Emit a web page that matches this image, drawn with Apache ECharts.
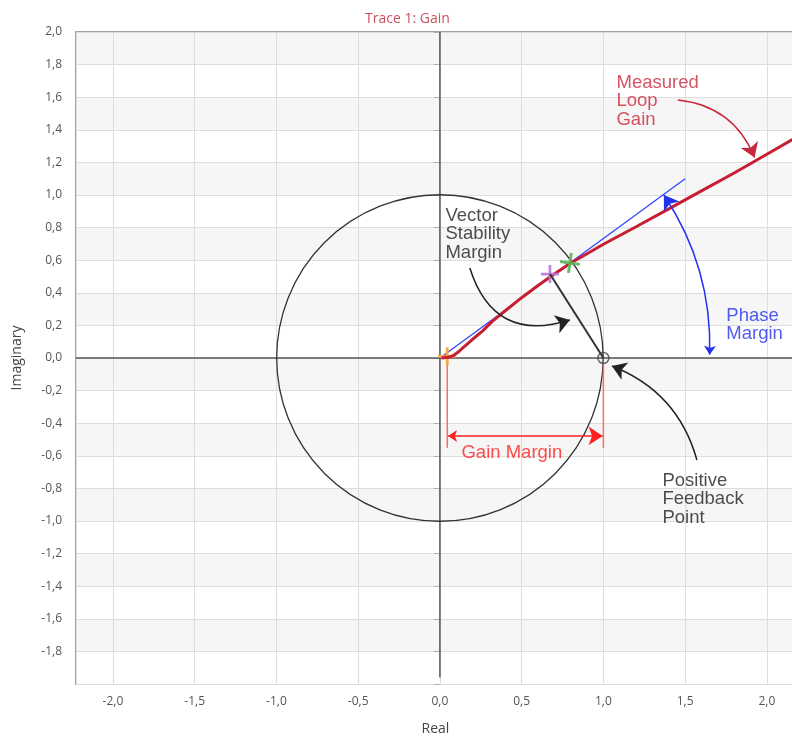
<!DOCTYPE html>
<html>
<head>
<meta charset="utf-8">
<title>Trace 1: Gain</title>
<script src="https://cdn.jsdelivr.net/npm/echarts@6/dist/echarts.min.js"></script>
<style>
    html, body { margin: 0; padding: 0; background: #fff; }
    #main { width: 792px; height: 740px; }
</style>
</head>
<body>
<div id="main"></div>
<script type="text/javascript">
    // axis ranges
    var realRange = [-2.226, 2.172];
    var imagRange = [-2.0, 2.0];

    // measured loop gain (real, imaginary)
    var loopGain = [
        [0.01, 0.0], [0.05, 0.004], [0.08, 0.014], [0.11, 0.035], [0.14, 0.062],
        [0.2, 0.115], [0.26, 0.165], [0.32, 0.225], [0.4, 0.29], [0.5, 0.37],
        [0.6, 0.445], [0.7, 0.515], [0.8, 0.583], [0.9, 0.64], [1.0, 0.698],
        [1.2, 0.805], [1.4, 0.915], [1.6, 1.025], [1.8, 1.135], [2.0, 1.25], [2.2, 1.365]
    ];
    var phaseLine = [[0, 0], [1.5, 1.1]];
    var unitCircle = [[0, 0, 1]];
    var vectorMargin = [[0.673, 0.515], [1.0, 0.0]];
    var gainMarginLeft = [[0.045, 0.0], [0.045, -0.55]];
    var gainMarginRight = [[1.0, -0.03], [1.0, -0.55]];
    var zeroReal = [[-2.226, 0], [2.172, 0]];
    var zeroImag = [[0, 2.0], [0, -1.96]];
    var crossGreen = [[0.795, 0.583]];
    var crossPurple = [[0.673, 0.515]];
    var crossOrange = [[0.045, 0.01]];
    var feedbackPoint = [[1.0, 0.0]];

    // annotation arrows: from, to, curveness
    var loopGainArrow = [[1.456, 1.583], [1.925, 1.23], 0.3];
    var vectorArrow = [[0.183, 0.552], [0.795, 0.233], -0.5];
    var feedbackArrow = [[1.572, -0.626], [1.052, -0.049], -0.25];
    var phaseArrow = [[1.65, 0.02], [1.37, 1.0], -0.16];
    var gainArrow = [[0.05, -0.478], [0.995, -0.478], 0];

    // annotation texts: text, top-left position
    var noteLoop = ['Measured\nLoop\nGain', [1.083, 1.742]];
    var noteVector = ['Vector\nStability\nMargin', [0.037, 0.926]];
    var notePhase = ['Phase\nMargin', [1.755, 0.313]];
    var noteFeedback = ['Positive\nFeedback\nPoint', [1.364, -0.70]];
    var noteGain = ['Gain Margin', [0.135, -0.528]];

    var plusPath = 'path://M8.5,0 H11.5 V8.5 H20 V11.5 H11.5 V20 H8.5 V11.5 H0 V8.5 H8.5 Z';

    function fmt(v, step) {
        var k = v / step;
        if (Math.abs(k - Math.round(k)) > 1e-6) return '';
        if (Math.abs(v) < 1e-9) v = 0;
        return v.toFixed(1).replace('.', ',');
    }

    function segment(name, data, color, width, z) {
        return {
            name: name, type: 'line', data: data, z: z,
            showSymbol: false, symbol: 'none', silent: true,
            lineStyle: { color: color, width: width }
        };
    }

    function arrow(name, a, color, both) {
        return {
            name: name, type: 'lines', coordinateSystem: 'cartesian2d', z: 8,
            symbol: both ? ['arrow', 'arrow'] : ['none', 'arrow'],
            symbolSize: [9, 14], silent: true,
            lineStyle: { color: color, width: 1.5, curveness: a[2], opacity: 1 },
            data: [{ coords: [a[0], a[1]] }]
        };
    }

    function note(a, color) {
        return { name: a[0], value: a[1], label: { color: color } };
    }

    var chart = echarts.init(document.getElementById('main'));

    var option = {
        animation: false,
        title: {
            text: 'Trace 1: Gain',
            left: 360, top: 7,
            textStyle: { color: '#c9515d', fontSize: 14, fontWeight: 'normal', fontFamily: 'Open Sans' }
        },
        grid: {
            left: 76, top: 32, width: 719, bottom: 56,
            outerBoundsMode: 'none', containLabel: false,
            show: true, borderColor: '#a4a4a4', borderWidth: 2
        },
        xAxis: {
            type: 'value', min: realRange[0], max: realRange[1],
            splitNumber: 9, minInterval: 0.5, maxInterval: 0.5,
            name: 'Real', nameLocation: 'middle', nameGap: 38,
            nameTextStyle: { color: '#444', fontSize: 14, fontFamily: 'Open Sans' },
            axisLine: { show: false },
            axisTick: { show: false },
            axisLabel: {
                color: '#555', fontSize: 12, fontFamily: 'Open Sans', margin: 12,
                formatter: function (v) { return fmt(v, 0.5); }
            },
            splitLine: { lineStyle: { color: '#dddddd', width: 1 } }
        },
        yAxis: {
            type: 'value', min: imagRange[0], max: imagRange[1], interval: 0.2,
            name: 'Imaginary', nameLocation: 'middle', nameGap: 52,
            nameTextStyle: { color: '#444', fontSize: 14, fontFamily: 'Open Sans' },
            axisLine: { show: false },
            axisTick: { show: true, length: 6, lineStyle: { color: '#b0b0b0' } },
            axisLabel: {
                color: '#555', fontSize: 12, fontFamily: 'Open Sans', margin: 14,
                formatter: function (v) { return v <= -1.99 ? '' : fmt(v, 0.2); }
            },
            splitLine: { lineStyle: { color: '#dddddd', width: 1 } },
            splitArea: { show: true, areaStyle: { color: ['#ffffff', '#f6f6f6'] } }
        },
        series: [
            segment('zeroReal', zeroReal, '#555', 1.5, 2),
            segment('zeroImag', zeroImag, '#555', 1.5, 2),
            {
                name: 'unitCircle', type: 'custom', z: 3, silent: true,
                data: unitCircle,
                encode: { x: 0, y: 1 },
                renderItem: function (params, api) {
                    var c = api.coord([api.value(0), api.value(1)]);
                    var s = api.size([api.value(2), api.value(2)]);
                    return {
                        type: 'circle',
                        shape: { cx: c[0], cy: c[1], r: (s[0] + s[1]) / 2 },
                        style: { fill: 'none', stroke: '#333', lineWidth: 1.3 }
                    };
                }
            },
            segment('phaseLine', phaseLine, '#3344ff', 1.3, 4),
            segment('gainMarginLeft', gainMarginLeft, '#ff6a6a', 1.5, 4),
            segment('gainMarginRight', gainMarginRight, '#ff6a6a', 1.5, 4),
            {
                name: 'orange', type: 'scatter', data: crossOrange, z: 4, silent: true,
                symbol: plusPath, symbolSize: 18, itemStyle: { color: '#f5a640', opacity: 1 }
            },
            segment('loopGain', loopGain, '#c81e32', 3, 5),
            {
                name: 'purple', type: 'scatter', data: crossPurple, z: 6, silent: true,
                symbol: plusPath, symbolSize: 18, itemStyle: { color: '#b77ad8', opacity: 0.9 }
            },
            {
                name: 'green', type: 'scatter', data: crossGreen, z: 6, silent: true,
                symbol: plusPath, symbolSize: 20, symbolRotate: -8,
                itemStyle: { color: '#5bb35b', opacity: 0.9 }
            },
            segment('vectorMargin', vectorMargin, '#333', 2, 7),
            {
                name: 'feedbackPoint', type: 'scatter', data: feedbackPoint, z: 7, silent: true,
                symbol: 'circle', symbolSize: 11,
                itemStyle: { color: 'rgba(0,0,0,0)', borderColor: '#444', borderWidth: 1.5 }
            },
            arrow('loopGainArrow', loopGainArrow, '#c8283c', false),
            arrow('vectorArrow', vectorArrow, '#222', false),
            arrow('feedbackArrow', feedbackArrow, '#222', false),
            arrow('phaseArrow', phaseArrow, '#2233ee', true),
            arrow('gainArrow', gainArrow, '#ff2020', true),
            {
                name: 'notes', type: 'scatter', z: 9, silent: true,
                symbolSize: 1, itemStyle: { color: 'rgba(0,0,0,0)' },
                label: {
                    show: true, position: [0, 0], align: 'left', verticalAlign: 'top',
                    fontSize: 18.5, lineHeight: 18.5, fontFamily: 'Liberation Sans',
                    formatter: function (p) { return p.name; }
                },
                data: [
                    note(noteLoop, '#c8283c'),
                    note(noteVector, '#222'),
                    note(notePhase, '#2233ee'),
                    note(noteFeedback, '#222'),
                    note(noteGain, '#ff2020')
                ]
            }
        ]
    };
    chart.setOption(option);
</script>
</body>
</html>
